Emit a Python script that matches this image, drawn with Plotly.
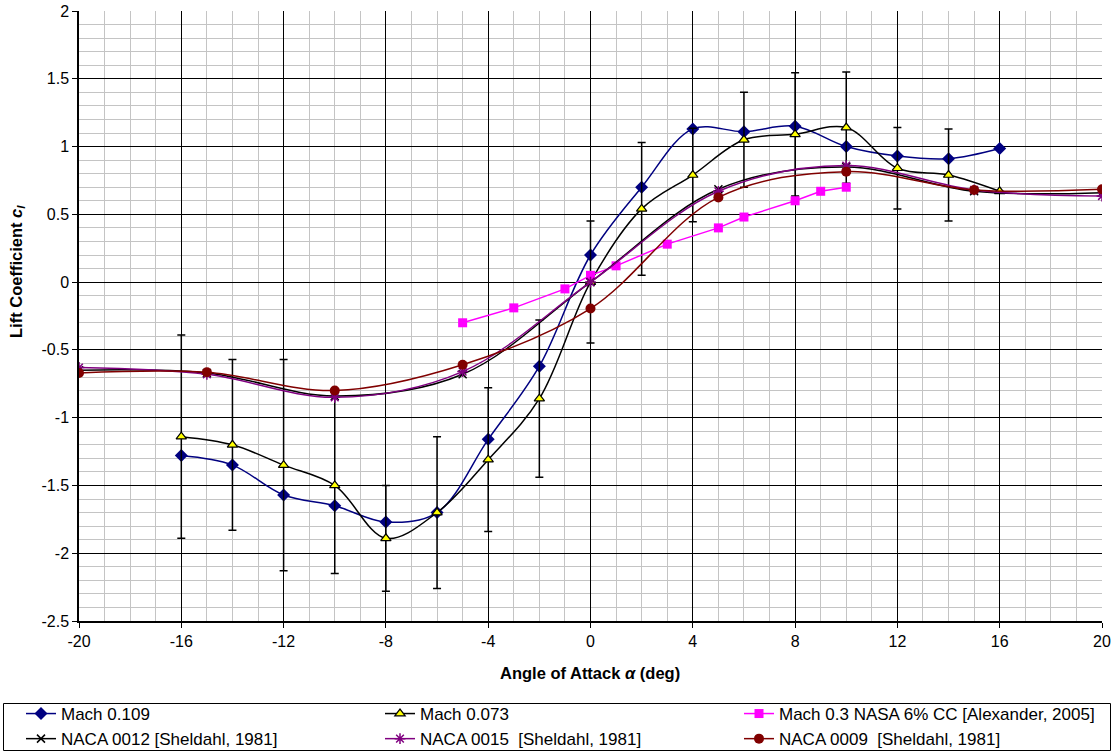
import plotly.graph_objects as go

# Wind-tunnel lift data, Mach 0.109
alpha_m109 = [-16, -14, -12, -10, -8, -6, -4, -2, 0, 2, 4, 6, 8, 10, 12, 14, 16]
cl_m109 = [-1.28, -1.35, -1.57, -1.65, -1.77, -1.70, -1.16, -0.62, 0.20, 0.70,
           1.13, 1.11, 1.15, 1.00, 0.93, 0.91, 0.985]

# Wind-tunnel lift data, Mach 0.073 (with scatter bars)
alpha_m073 = [-16, -14, -12, -10, -8, -6, -4, -2, 0, 2, 4, 6, 8, 10, 12, 14, 16]
cl_m073 = [-1.14, -1.20, -1.35, -1.50, -1.89, -1.70, -1.31, -0.86, 0.0, 0.54,
           0.79, 1.05, 1.09, 1.14, 0.84, 0.79, 0.67]
err_m073 = [0.75, 0.63, 0.78, 0.65, 0.39, 0.56, 0.53, 0.58, 0.45, 0.49,
            0.345, 0.35, 0.455, 0.41, 0.30, 0.34, 0.0]

# Mach 0.3 NASA 6% CC [Alexander, 2005]
alpha_nasa = [-5, -3, -1, 0, 1, 3, 5, 6, 8, 9, 10]
cl_nasa = [-0.30, -0.19, -0.05, 0.05, 0.12, 0.28, 0.40, 0.48, 0.60, 0.67, 0.70]

# Sheldahl 1981 reference sections
alpha_sheldahl = [-20, -15, -10, -5, 0, 5, 10, 15, 20]
cl_naca0012 = [-0.65, -0.67, -0.84, -0.68, 0.0, 0.685, 0.85, 0.67, 0.66]
cl_naca0015 = [-0.63, -0.68, -0.85, -0.66, 0.0, 0.67, 0.86, 0.68, 0.635]
cl_naca0009 = [-0.67, -0.665, -0.80, -0.61, -0.195, 0.625, 0.815, 0.68, 0.685]

x_ticks = [-20, -16, -12, -8, -4, 0, 4, 8, 12, 16, 20]
y_ticks = [-2.5, -2, -1.5, -1, -0.5, 0, 0.5, 1, 1.5, 2]

FONT = "Liberation Sans, Arial, sans-serif"

W, H = 1115, 754
M_L, M_R, M_T, M_B = 79, 13, 11, 133
PW, PH = W - M_L - M_R, H - M_T - M_B


def px_x(p):
    """Horizontal pixel -> paper fraction."""
    return (p - M_L) / PW


def px_y(p):
    """Vertical pixel (from top) -> paper fraction."""
    return (H - M_B - p) / PH


fig = go.Figure()

fig.add_trace(go.Scatter(
    x=alpha_m109, y=cl_m109, name="Mach 0.109", mode="lines+markers",
    line=dict(color="#000080", width=1.5, shape="spline", smoothing=1),
    marker=dict(symbol="diamond", size=10, color="#000080"),
))

fig.add_trace(go.Scatter(
    x=alpha_m073, y=cl_m073, name="Mach 0.073", mode="lines+markers",
    line=dict(color="black", width=1.5, shape="spline", smoothing=1),
    marker=dict(symbol="triangle-up", size=9, color="#FFFF00",
                line=dict(color="black", width=1.2)),
    error_y=dict(type="data", array=err_m073, visible=True,
                 color="black", thickness=1.5, width=4),
))

fig.add_trace(go.Scatter(
    x=alpha_nasa, y=cl_nasa, name="Mach 0.3 NASA 6% CC [Alexander, 2005]",
    mode="lines+markers",
    line=dict(color="#FF00FF", width=1.5),
    marker=dict(symbol="square", size=9, color="#FF00FF"),
))

fig.add_trace(go.Scatter(
    x=alpha_sheldahl, y=cl_naca0012, name="NACA 0012 [Sheldahl, 1981]",
    mode="lines+markers",
    line=dict(color="black", width=1.5, shape="spline", smoothing=1),
    marker=dict(symbol="x-thin-open", size=8, color="black",
                line=dict(color="black", width=1.5)),
))

fig.add_trace(go.Scatter(
    x=alpha_sheldahl, y=cl_naca0015, name="NACA 0015  [Sheldahl, 1981]",
    mode="lines+markers",
    line=dict(color="#800080", width=1.5, shape="spline", smoothing=1),
    marker=dict(symbol="asterisk-open", size=9, color="#800080",
                line=dict(color="#800080", width=1.5)),
))

fig.add_trace(go.Scatter(
    x=alpha_sheldahl, y=cl_naca0009, name="NACA 0009  [Sheldahl, 1981]",
    mode="lines+markers",
    line=dict(color="#800000", width=1.5, shape="spline", smoothing=1),
    marker=dict(symbol="circle", size=10, color="#800000"),
))

fig.update_layout(
    width=W, height=H,
    margin=dict(l=M_L, r=M_R, t=M_T, b=M_B, autoexpand=False),
    paper_bgcolor="white", plot_bgcolor="white",
    font=dict(family=FONT, size=13, color="black"),
    showlegend=True,
    legend=dict(
        orientation="h", x=px_x(21), xanchor="left",
        y=px_y(696), yanchor="top",
        borderwidth=0, bgcolor="rgba(0,0,0,0)",
        font=dict(family=FONT, size=17, color="black"),
        entrywidth=314, entrywidthmode="pixels", tracegroupgap=0,
    ),
    shapes=[
        # frame around the legend
        dict(type="rect", xref="paper", yref="paper",
             x0=px_x(3.5), x1=px_x(1110.5), y0=px_y(703.5), y1=px_y(750.5),
             line=dict(color="black", width=1), fillcolor="rgba(0,0,0,0)",
             layer="below"),
    ],
    annotations=[
        dict(text="<b>Lift Coefficient <i>c</i><sub><i>l</i></sub></b>",
             xref="paper", yref="paper", x=px_x(17), y=px_y(272),
             xanchor="center", yanchor="middle", textangle=-90,
             showarrow=False, font=dict(family=FONT, size=16.5)),
        dict(text="<b>Angle of Attack <i>α</i> (deg)</b>",
             xref="paper", yref="paper", x=px_x(590), y=px_y(673),
             xanchor="center", yanchor="middle",
             showarrow=False, font=dict(family=FONT, size=16.5)),
    ],
)

fig.update_xaxes(
    range=[-20, 20], tickmode="array", tickvals=x_ticks,
    ticktext=[str(v) for v in x_ticks],
    ticks="outside", ticklen=5, tickcolor="black",
    tickfont=dict(family=FONT, size=16),
    showgrid=True, gridcolor="black", gridwidth=1,
    minor=dict(dtick=1, showgrid=True, gridcolor="#c4c4c4", gridwidth=1),
    showline=True, linecolor="black", linewidth=1.5,
    zeroline=False,
)
fig.update_yaxes(
    range=[-2.5, 2], tickmode="array", tickvals=y_ticks,
    ticktext=[f"{v:g}" for v in y_ticks],
    ticks="outside", ticklen=5, tickcolor="black",
    tickfont=dict(family=FONT, size=16),
    showgrid=True, gridcolor="black", gridwidth=1,
    minor=dict(dtick=0.1, showgrid=True, gridcolor="#c4c4c4", gridwidth=1),
    showline=True, linecolor="black", linewidth=1.5,
    zeroline=False,
)

fig.write_html("out.html")
